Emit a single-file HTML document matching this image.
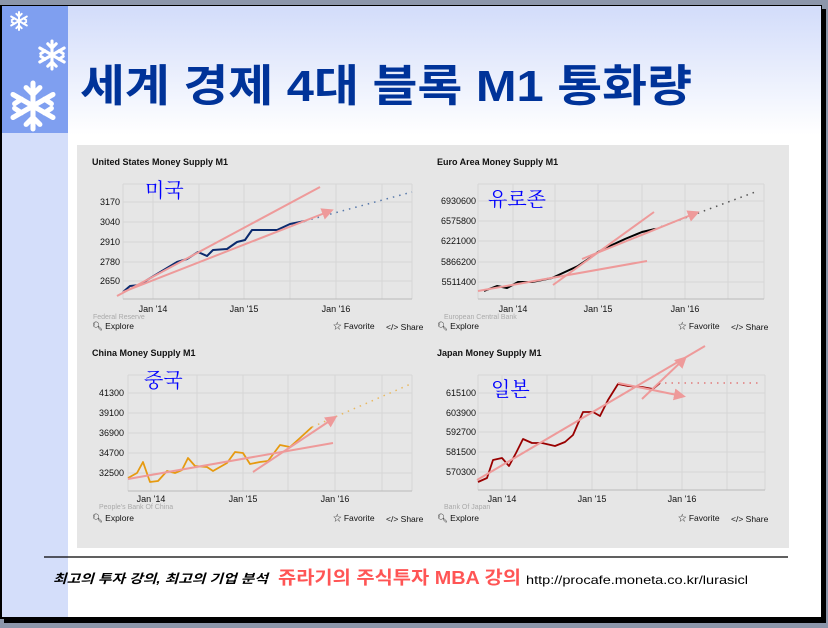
<!DOCTYPE html>
<html><head><meta charset="utf-8"><style>
html,body{margin:0;padding:0;background:#8c96aa;}
svg{display:block}
</style></head><body>
<svg width="828" height="628" xmlns="http://www.w3.org/2000/svg" font-family="Liberation Sans, Noto Sans CJK KR, sans-serif">
<defs>
<linearGradient id="bg" gradientUnits="userSpaceOnUse" x1="0" y1="6" x2="0" y2="135">
<stop offset="0" stop-color="#d2dcfa"/><stop offset="1" stop-color="#ffffff"/></linearGradient>
<marker id="ah" markerWidth="6" markerHeight="6" refX="4" refY="3" orient="auto" markerUnits="strokeWidth">
<path d="M0,0 L6,3 L0,6 z" fill="#ee9a9a"/></marker>
<g id="flake" stroke="#fff" stroke-width="2.2" stroke-linecap="round">
<line x1="0" y1="-10" x2="0" y2="10"/><line x1="-8.7" y1="-5" x2="8.7" y2="5"/><line x1="-8.7" y1="5" x2="8.7" y2="-5"/>
<line x1="-3" y1="-8" x2="0" y2="-5"/><line x1="3" y1="-8" x2="0" y2="-5"/>
<line x1="-3" y1="8" x2="0" y2="5"/><line x1="3" y1="8" x2="0" y2="5"/>
<line x1="-8" y1="-1" x2="-5" y2="-3"/><line x1="8" y1="1" x2="5" y2="3"/>
<line x1="8" y1="-1" x2="5" y2="-3"/><line x1="-8" y1="1" x2="-5" y2="3"/>
</g>
</defs>
<rect x="0" y="0" width="828" height="628" fill="#8c96aa"/>
<rect x="4" y="9" width="822" height="614" fill="#000"/>
<rect x="0" y="5" width="822" height="614" fill="#000"/>
<rect x="2" y="6" width="819" height="611" fill="#fff"/>
<rect x="2" y="6" width="819" height="130" fill="url(#bg)"/>
<rect x="2" y="133" width="66" height="484" fill="#d4defa"/>
<rect x="2" y="6" width="66" height="127" fill="#7f9ff0"/>
<use href="#flake" transform="translate(19,21) scale(0.9)"/>
<use href="#flake" transform="translate(52,55) scale(1.4)"/>
<use href="#flake" transform="translate(33,106) scale(2.3)"/>
<text x="80" y="101" font-size="44" font-weight="bold" fill="#003399" textLength="612" lengthAdjust="spacingAndGlyphs">세계 경제 4대 블록 M1 통화량</text>
<rect x="77" y="145" width="712" height="403" fill="#e6e6e6"/>
<g font-size="9" fill="#111" stroke-linejoin="round">
<text x="92" y="165" font-weight="bold">United States Money Supply M1</text>
<g stroke="#d6d6d6" stroke-width="1">
<line x1="123" y1="184" x2="412" y2="184"/><line x1="123" y1="202" x2="412" y2="202"/><line x1="123" y1="222" x2="412" y2="222"/><line x1="123" y1="242" x2="412" y2="242"/><line x1="123" y1="262" x2="412" y2="262"/><line x1="123" y1="281" x2="412" y2="281"/>
<line x1="123" y1="184" x2="123" y2="299"/><line x1="153" y1="184" x2="153" y2="299"/><line x1="199" y1="184" x2="199" y2="299"/><line x1="244" y1="184" x2="244" y2="299"/><line x1="290" y1="184" x2="290" y2="299"/><line x1="336" y1="184" x2="336" y2="299"/><line x1="382" y1="184" x2="382" y2="299"/><line x1="412" y1="184" x2="412" y2="299"/>
</g>
<line x1="123" y1="299" x2="412" y2="299" stroke="#bbb"/>
<g text-anchor="end"><text x="120" y="205">3170</text><text x="120" y="225">3040</text><text x="120" y="245">2910</text><text x="120" y="265">2780</text><text x="120" y="284">2650</text></g>
<g text-anchor="middle"><text x="153" y="312">Jan '14</text><text x="244" y="312">Jan '15</text><text x="336" y="312">Jan '16</text></g>
<text x="93" y="319" font-size="7" fill="#aaa">Federal Reserve</text>
<polyline fill="none" stroke="#0b2a6e" stroke-width="2" points="123,292 130,286 140,285 147,280 157,274 167,268 177,262 187,259 198,252 207,256 213,250 227,249 237,242 245,240 252,230 267,230 277,230 290,224 305,221"/>
<line x1="305" y1="221" x2="412" y2="192" stroke="#5577aa" stroke-width="1.5" stroke-dasharray="1.5,5"/>
<line x1="117" y1="296" x2="320" y2="187" stroke="#ee9a9a" stroke-width="2"/>
<line x1="123" y1="292" x2="330" y2="211" stroke="#ee9a9a" stroke-width="2" marker-end="url(#ah)"/>
<text x="145" y="197" font-size="20" fill="#0000ff" font-family="Noto Serif CJK KR, Noto Serif CJK SC, serif">미국</text>
<text x="92" y="329" font-size="8.5">🔍︎ Explore</text>
<text x="333" y="329" font-size="8.5">☆ Favorite</text>
<text x="386" y="330" font-size="8.5">&lt;/&gt; Share</text>

<text x="437" y="165" font-weight="bold">Euro Area Money Supply M1</text>
<g stroke="#d6d6d6">
<line x1="478" y1="184" x2="764" y2="184"/><line x1="478" y1="201" x2="764" y2="201"/><line x1="478" y1="221" x2="764" y2="221"/><line x1="478" y1="241" x2="764" y2="241"/><line x1="478" y1="262" x2="764" y2="262"/><line x1="478" y1="282" x2="764" y2="282"/>
<line x1="478" y1="184" x2="478" y2="299"/><line x1="513" y1="184" x2="513" y2="299"/><line x1="555" y1="184" x2="555" y2="299"/><line x1="598" y1="184" x2="598" y2="299"/><line x1="642" y1="184" x2="642" y2="299"/><line x1="685" y1="184" x2="685" y2="299"/><line x1="728" y1="184" x2="728" y2="299"/><line x1="764" y1="184" x2="764" y2="299"/>
</g>
<line x1="478" y1="299" x2="764" y2="299" stroke="#bbb"/>
<g text-anchor="end"><text x="476" y="204">6930600</text><text x="476" y="224">6575800</text><text x="476" y="244">6221000</text><text x="476" y="265">5866200</text><text x="476" y="285">5511400</text></g>
<g text-anchor="middle"><text x="513" y="312">Jan '14</text><text x="598" y="312">Jan '15</text><text x="685" y="312">Jan '16</text></g>
<text x="444" y="319" font-size="7" fill="#aaa">European Central Bank</text>
<polyline fill="none" stroke="#000" stroke-width="2" points="484,291 497,286 507,288 518,282 532,282 542,280 552,278 565,272 578,266 590,258 598,252 612,245 625,239 642,232 655,229"/>
<line x1="655" y1="229" x2="758" y2="191" stroke="#555" stroke-width="1.5" stroke-dasharray="1.5,5"/>
<line x1="478" y1="291" x2="647" y2="261" stroke="#ee9a9a" stroke-width="2"/>
<line x1="553" y1="285" x2="654" y2="212" stroke="#ee9a9a" stroke-width="2"/>
<line x1="582" y1="259" x2="696" y2="213" stroke="#ee9a9a" stroke-width="2" marker-end="url(#ah)"/>
<text x="488" y="206" font-size="20" fill="#0000ff" font-family="Noto Serif CJK KR, Noto Serif CJK SC, serif">유로존</text>
<text x="437" y="329" font-size="8.5">🔍︎ Explore</text>
<text x="678" y="329" font-size="8.5">☆ Favorite</text>
<text x="731" y="330" font-size="8.5">&lt;/&gt; Share</text>

<text x="92" y="356" font-weight="bold">China Money Supply M1</text>
<g stroke="#d6d6d6">
<line x1="128" y1="375" x2="412" y2="375"/><line x1="128" y1="393" x2="412" y2="393"/><line x1="128" y1="413" x2="412" y2="413"/><line x1="128" y1="433" x2="412" y2="433"/><line x1="128" y1="453" x2="412" y2="453"/><line x1="128" y1="473" x2="412" y2="473"/>
<line x1="128" y1="375" x2="128" y2="491"/><line x1="151" y1="375" x2="151" y2="491"/><line x1="197" y1="375" x2="197" y2="491"/><line x1="243" y1="375" x2="243" y2="491"/><line x1="288" y1="375" x2="288" y2="491"/><line x1="335" y1="375" x2="335" y2="491"/><line x1="382" y1="375" x2="382" y2="491"/><line x1="412" y1="375" x2="412" y2="491"/>
</g>
<line x1="128" y1="491" x2="412" y2="491" stroke="#bbb"/>
<g text-anchor="end"><text x="124" y="396">41300</text><text x="124" y="416">39100</text><text x="124" y="436">36900</text><text x="124" y="456">34700</text><text x="124" y="476">32500</text></g>
<g text-anchor="middle"><text x="151" y="502">Jan '14</text><text x="243" y="502">Jan '15</text><text x="335" y="502">Jan '16</text></g>
<text x="99" y="509" font-size="7" fill="#aaa">People's Bank Of China</text>
<polyline fill="none" stroke="#e69a10" stroke-width="1.8" points="128,478 137,473 143,462 150,482 158,481 167,471 175,473 182,470 188,458 195,466 207,467 213,471 227,463 235,452 243,453 250,464 260,462 268,461 280,445 290,447 300,438 312,427"/>
<line x1="312" y1="427" x2="413" y2="383" stroke="#e8b860" stroke-width="1.5" stroke-dasharray="1.5,5"/>
<line x1="128" y1="479" x2="333" y2="443" stroke="#ee9a9a" stroke-width="2"/>
<line x1="253" y1="472" x2="334" y2="418" stroke="#ee9a9a" stroke-width="2" marker-end="url(#ah)"/>
<text x="144" y="387" font-size="20" fill="#0000ff" font-family="Noto Serif CJK KR, Noto Serif CJK SC, serif">중국</text>
<text x="92" y="521" font-size="8.5">🔍︎ Explore</text>
<text x="333" y="521" font-size="8.5">☆ Favorite</text>
<text x="386" y="522" font-size="8.5">&lt;/&gt; Share</text>

<text x="437" y="356" font-weight="bold">Japan Money Supply M1</text>
<g stroke="#d6d6d6">
<line x1="478" y1="375" x2="765" y2="375"/><line x1="478" y1="393" x2="765" y2="393"/><line x1="478" y1="413" x2="765" y2="413"/><line x1="478" y1="432" x2="765" y2="432"/><line x1="478" y1="452" x2="765" y2="452"/><line x1="478" y1="472" x2="765" y2="472"/>
<line x1="478" y1="375" x2="478" y2="490"/><line x1="502" y1="375" x2="502" y2="490"/><line x1="547" y1="375" x2="547" y2="490"/><line x1="592" y1="375" x2="592" y2="490"/><line x1="637" y1="375" x2="637" y2="490"/><line x1="682" y1="375" x2="682" y2="490"/><line x1="727" y1="375" x2="727" y2="490"/><line x1="765" y1="375" x2="765" y2="490"/>
</g>
<line x1="478" y1="490" x2="765" y2="490" stroke="#bbb"/>
<g text-anchor="end"><text x="476" y="396">615100</text><text x="476" y="416">603900</text><text x="476" y="435">592700</text><text x="476" y="455">581500</text><text x="476" y="475">570300</text></g>
<g text-anchor="middle"><text x="502" y="502">Jan '14</text><text x="592" y="502">Jan '15</text><text x="682" y="502">Jan '16</text></g>
<text x="444" y="509" font-size="7" fill="#aaa">Bank Of Japan</text>
<polyline fill="none" stroke="#990000" stroke-width="1.8" points="478,482 487,478 493,460 502,458 509,466 516,453 523,439 532,443 542,443 555,446 565,442 573,435 583,412 593,412 600,416 608,400 618,384 628,386 642,387 653,389 660,383"/>
<line x1="665" y1="383" x2="758" y2="383" stroke="#e07a7a" stroke-width="1.5" stroke-dasharray="1.5,5"/>
<line x1="477" y1="480" x2="705" y2="346" stroke="#ee9a9a" stroke-width="2"/>
<line x1="642" y1="399" x2="684" y2="359" stroke="#ee9a9a" stroke-width="2" marker-end="url(#ah)"/>
<line x1="618" y1="383" x2="682" y2="396" stroke="#ee9a9a" stroke-width="2" marker-end="url(#ah)"/>
<text x="491" y="396" font-size="20" fill="#0000ff" font-family="Noto Serif CJK KR, Noto Serif CJK SC, serif">일본</text>
<text x="437" y="521" font-size="8.5">🔍︎ Explore</text>
<text x="678" y="521" font-size="8.5">☆ Favorite</text>
<text x="731" y="522" font-size="8.5">&lt;/&gt; Share</text>
</g>
<line x1="44" y1="557" x2="788" y2="557" stroke="#000" stroke-width="1.2"/>
<text x="53" y="583" font-size="12.5" font-style="italic" font-weight="bold" fill="#000" textLength="215" lengthAdjust="spacingAndGlyphs">최고의 투자 강의, 최고의 기업 분석</text>
<text x="278" y="584" font-size="18" font-weight="bold" fill="#ff5555" textLength="243" lengthAdjust="spacingAndGlyphs">쥬라기의 주식투자 MBA 강의</text>
<text x="526" y="584" font-size="12" fill="#000" textLength="222" lengthAdjust="spacingAndGlyphs">http://procafe.moneta.co.kr/lurasicl</text>
</svg>
</body></html>
